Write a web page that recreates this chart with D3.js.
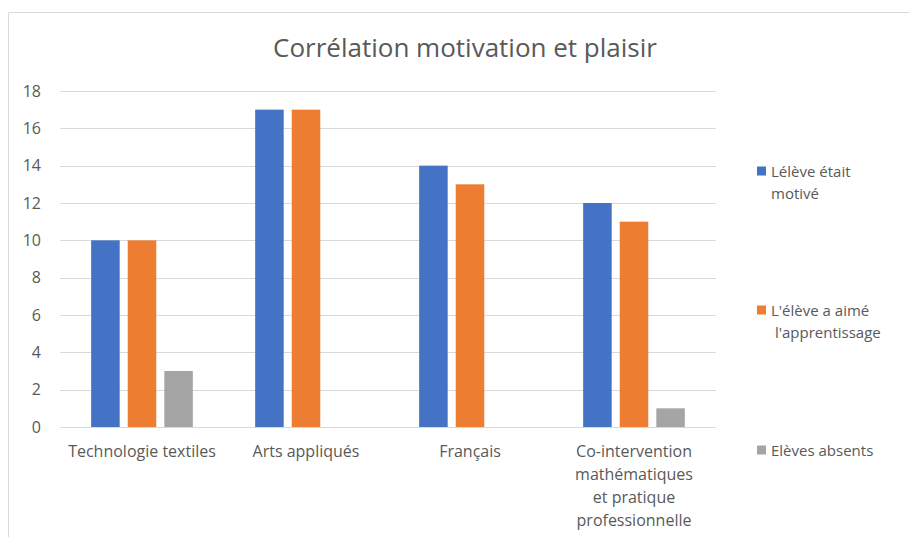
<!DOCTYPE html>
<html>
<head>
<meta charset="utf-8">
<script src="https://cdn.jsdelivr.net/npm/d3@7"></script>
<style>
  body { margin: 0; background: #fff; }
  text { font-family: "Open Sans", "Liberation Sans", sans-serif; fill: #595959; }
</style>
</head>
<body>
<div id="chart"></div>
<script>
const categories = ["Technologie textiles", "Arts appliqués", "Français",
                    "Co-intervention\nmathématiques\net pratique\nprofessionnelle"];
const series = ["Lélève était\nmotivé", "L'élève a aimé\n l'apprentissage", "Elèves absents"];
const motive = [10, 17, 14, 12];
const aime = [10, 17, 13, 11];
const absents = [3, 0, 0, 1];
const yTicks = [0, 2, 4, 6, 8, 10, 12, 14, 16, 18];
const colors = ["#4472C4", "#ED7D31", "#A5A5A5"];

const width = 909, height = 537;
const plotLeft = 60, plotRight = 716, plotTop = 91, plotBottom = 427;

const svg = d3.select("#chart").append("svg")
    .attr("width", width)
    .attr("height", height);

// chart area border (left + top only visible)
svg.append("path")
    .attr("d", "M8.5,537V12.5H909")
    .attr("fill", "none")
    .attr("stroke", "#d9d9d9");

svg.append("text")
    .attr("x", 465)
    .attr("y", 57)
    .attr("text-anchor", "middle")
    .style("font-size", "26px")
    .text("Corrélation motivation et plaisir");

const y = d3.scaleLinear().domain([0, 18]).range([plotBottom, plotTop]);
const x0 = d3.scaleBand().domain(categories).range([plotLeft, plotRight])
    .paddingInner(0.38).paddingOuter(0.19);
const x1 = d3.scaleBand().domain(d3.range(series.length)).range([0, x0.bandwidth()])
    .paddingInner(0.22).paddingOuter(0);

// gridlines
svg.append("g").selectAll("line")
  .data(yTicks)
  .enter().append("line")
    .attr("x1", plotLeft).attr("x2", plotRight)
    .attr("y1", d => Math.round(y(d)) + 0.5)
    .attr("y2", d => Math.round(y(d)) + 0.5)
    .attr("stroke", "#d9d9d9")
    .attr("stroke-width", 1);

svg.append("g").selectAll("text")
  .data(yTicks)
  .enter().append("text")
    .attr("x", 41)
    .attr("y", d => y(d))
    .attr("dy", "0.35em")
    .attr("text-anchor", "end")
    .style("font-size", "16px")
    .text(d => d);

const values = [motive, aime, absents];
const rows = [];
categories.forEach((c, i) => {
  values.forEach((v, s) => rows.push({cat: c, s: s, v: v[i]}));
});

svg.append("g").selectAll("rect")
  .data(rows.filter(d => d.v > 0))
  .enter().append("rect")
    .attr("x", d => x0(d.cat) + x1(d.s))
    .attr("y", d => y(d.v))
    .attr("width", x1.bandwidth())
    .attr("height", d => y(0) - y(d.v))
    .attr("fill", d => colors[d.s]);

// category labels
const catLabel = svg.append("g").selectAll("text")
  .data(categories)
  .enter().append("text")
    .attr("text-anchor", "middle")
    .attr("y", 457)
    .style("font-size", "16px");

catLabel.selectAll("tspan")
  .data(d => d.split("\n").map(t => ({t: t, c: d})))
  .enter().append("tspan")
    .attr("x", d => x0(d.c) + x0.bandwidth() / 2)
    .attr("dy", (d, i) => i ? 23 : 0)
    .text(d => d.t);

// legend
const legendY = [171, 310, 450];
const leg = svg.append("g").selectAll("g")
  .data(series)
  .enter().append("g")
    .attr("transform", (d, i) => `translate(757,${legendY[i]})`);

leg.append("rect")
    .attr("x", 0).attr("y", -4.5)
    .attr("width", 9).attr("height", 9)
    .attr("fill", (d, i) => colors[i]);

leg.append("text")
    .attr("y", 5.5)
    .style("font-size", "15px")
    .style("white-space", "pre")
    .selectAll("tspan")
    .data(d => d.split("\n"))
    .enter().append("tspan")
      .attr("x", 14)
      .attr("dy", (d, i) => i ? 22 : 0)
      .text(d => d);
</script>
</body>
</html>
